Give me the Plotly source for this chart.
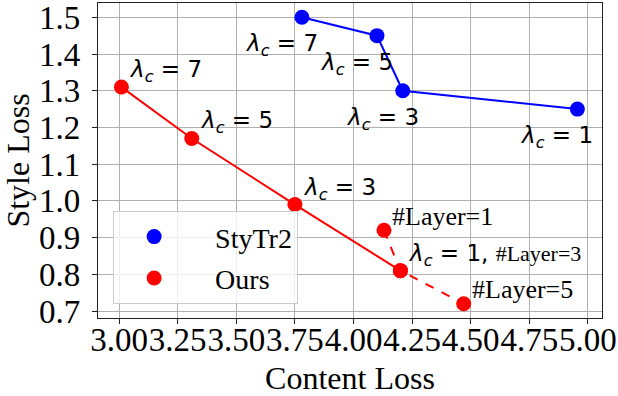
import plotly.graph_objects as go

# StyTr2 (blue) and Ours (red)
stytr2_x = [3.78, 4.10, 4.21, 4.955]
stytr2_y = [1.50, 1.45, 1.30, 1.25]
stytr2_lbl = ["7", "5", "3", "1"]

ours_x = [3.01, 3.31, 3.75, 4.20]
ours_y = [1.31, 1.17, 0.99, 0.81]
ours_lbl = ["7", "5", "3", "1"]

# layer ablation (dashed)
layer_x = [4.13, 4.20, 4.47]
layer_y = [0.92, 0.81, 0.72]
layer_lbl = ["#Layer=1", "#Layer=3", "#Layer=5"]

xticks = [3.00, 3.25, 3.50, 3.75, 4.00, 4.25, 4.50, 4.75, 5.00]
yticks = [0.7, 0.8, 0.9, 1.0, 1.1, 1.2, 1.3, 1.4, 1.5]

SERIF = "Liberation Serif, Times New Roman, serif"
SANS = "DejaVu Sans, sans-serif"
BLUE = "#0000ff"
RED = "#ff0000"

fig = go.Figure()

fig.add_trace(go.Scatter(x=stytr2_x, y=stytr2_y, mode="lines", line=dict(color=BLUE, width=2),
                         showlegend=False, hoverinfo="skip"))
fig.add_trace(go.Scatter(x=ours_x, y=ours_y, mode="lines", line=dict(color=RED, width=2),
                         showlegend=False, hoverinfo="skip"))
fig.add_trace(go.Scatter(x=layer_x, y=layer_y, mode="lines", line=dict(color=RED, width=2, dash="dash"),
                         showlegend=False, hoverinfo="skip"))
# legend-only marker traces (names padded so text sits further from the symbol)
fig.add_trace(go.Scatter(x=stytr2_x, y=stytr2_y, mode="markers", name="\u2002 StyTr2",
                         marker=dict(color=BLUE, size=15), legendgroup="a"))
fig.add_trace(go.Scatter(x=ours_x + layer_x, y=ours_y + layer_y, mode="markers", name="\u2002 Ours",
                         marker=dict(color=RED, size=15), legendgroup="b"))

annotations = []
for x, y, l in zip(stytr2_x, stytr2_y, stytr2_lbl):
    annotations.append(dict(x=x, y=y, text="<i>λ<sub>c</sub></i> = " + l, xanchor="left",
                            yanchor="middle", xshift=-59, yshift=-28, showarrow=False,
                            font=dict(family=SANS, size=23, color="black")))
for x, y, l in zip(ours_x[:3], ours_y[:3], ours_lbl[:3]):
    annotations.append(dict(x=x, y=y, text="<i>λ<sub>c</sub></i> = " + l, xanchor="left",
                            yanchor="middle", xshift=6, yshift=16, showarrow=False,
                            font=dict(family=SANS, size=23, color="black")))
annotations.append(dict(x=ours_x[3], y=ours_y[3],
                        text="<i>λ<sub>c</sub></i> = " + ours_lbl[3] + ", "
                             "<span style='font-family:Liberation Serif;font-size:22px'>" + layer_lbl[1] + "</span>",
                        xanchor="left", yanchor="middle", xshift=6, yshift=16, showarrow=False,
                        font=dict(family=SANS, size=23, color="black")))
for i in (0, 2):
    annotations.append(dict(x=layer_x[i], y=layer_y[i], text=layer_lbl[i], xanchor="left",
                            yanchor="middle", xshift=6, yshift=14, showarrow=False,
                            font=dict(family=SERIF, size=26, color="black")))

axis_common = dict(showgrid=True, gridcolor="#b0b0b0", gridwidth=1, showline=True,
                   linecolor="#222222", linewidth=1.3, mirror=True, ticks="outside",
                   ticklen=5, tickcolor="#222222", zeroline=False, automargin=False,
                   ticklabeloverflow="allow",
                   tickfont=dict(family=SERIF, size=33, color="black"))

fig.update_layout(
    width=618, height=396,
    margin=dict(l=98, r=16, t=3, b=78),
    plot_bgcolor="white", paper_bgcolor="white",
    annotations=annotations,
    xaxis=dict(range=[2.91, 5.06], tickmode="array", tickvals=xticks,
               ticktext=["%.2f" % v for v in xticks], tickangle=0, ticklabelstandoff=-13,
               title=dict(text="Content Loss", font=dict(family=SERIF, size=32, color="black"), standoff=18),
               **axis_common),
    yaxis=dict(range=[0.681, 1.539], tickmode="array", tickvals=yticks,
               ticktext=["%.1f" % v for v in yticks], ticklabelstandoff=5,
               title=dict(text="Style Loss", font=dict(family=SERIF, size=32, color="black"), standoff=3),
               **axis_common),
    legend=dict(x=0.03, y=0.34, xanchor="left", yanchor="top",
                bgcolor="rgba(255,255,255,0.8)", bordercolor="#cccccc", borderwidth=1,
                font=dict(family=SERIF, size=28, color="black"),
                traceorder="grouped", tracegroupgap=2, itemwidth=70),
)

fig.write_html("out.html", config={"displayModeBar": False},
               post_script="document.body.style.margin='0px';")
